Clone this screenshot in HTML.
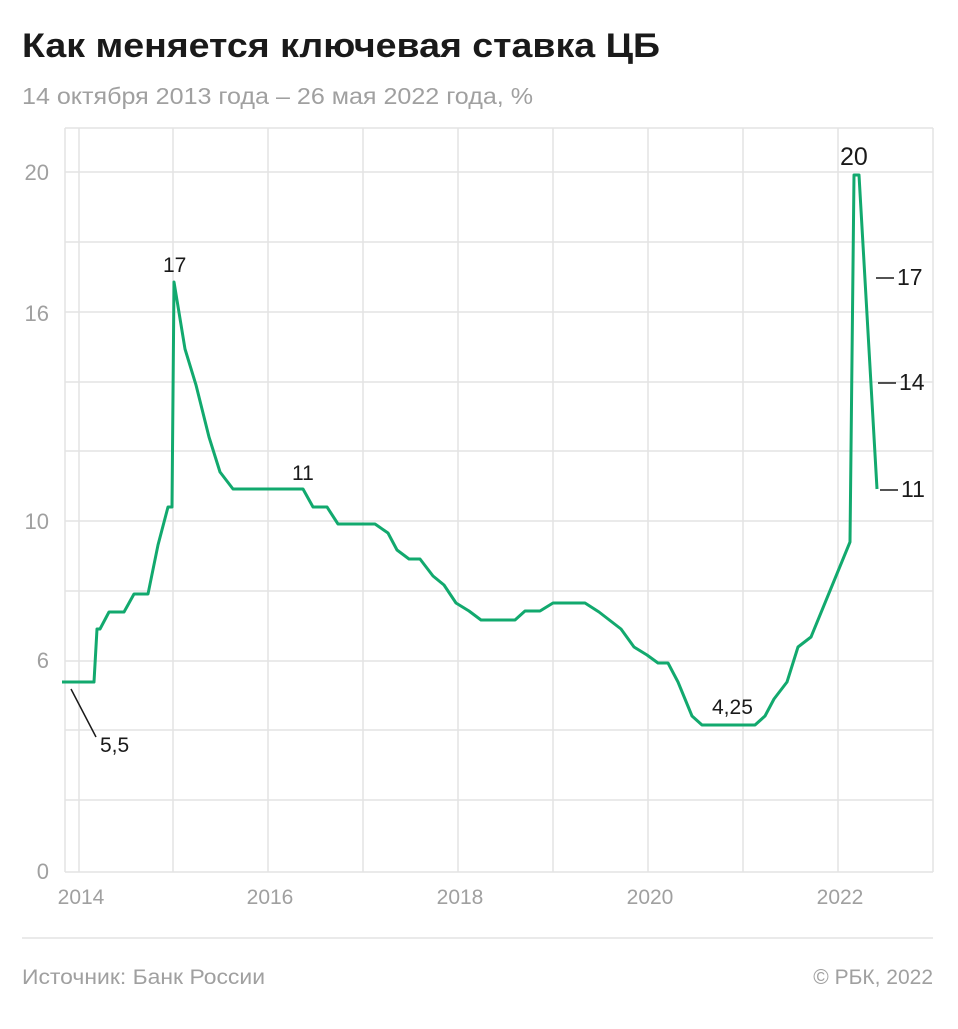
<!DOCTYPE html><html><head><meta charset="utf-8"><style>
body{margin:0;background:#fff;font-family:"Liberation Sans",sans-serif;}
</style></head><body>
<svg width="958" height="1024" xmlns="http://www.w3.org/2000/svg" font-family="Liberation Sans, sans-serif">
<rect width="958" height="1024" fill="#fff"/>
<text x="22" y="57" font-size="34" font-weight="bold" fill="#1a1a1a" textLength="638" lengthAdjust="spacingAndGlyphs">Как меняется ключевая ставка ЦБ</text>
<text x="22" y="104" font-size="23" fill="#a0a0a0" textLength="511" lengthAdjust="spacingAndGlyphs">14 октября 2013 года – 26 мая 2022 года, %</text>
<g stroke="#e3e3e3" stroke-width="1.5">
<line x1="65" y1="128" x2="933" y2="128"/>
<line x1="65" y1="172" x2="933" y2="172"/>
<line x1="65" y1="242" x2="933" y2="242"/>
<line x1="65" y1="312" x2="933" y2="312"/>
<line x1="65" y1="382" x2="933" y2="382"/>
<line x1="65" y1="451" x2="933" y2="451"/>
<line x1="65" y1="521" x2="933" y2="521"/>
<line x1="65" y1="591" x2="933" y2="591"/>
<line x1="65" y1="661" x2="933" y2="661"/>
<line x1="65" y1="730" x2="933" y2="730"/>
<line x1="65" y1="800" x2="933" y2="800"/>
<line x1="65" y1="872" x2="933" y2="872"/>
<line x1="65" y1="128" x2="65" y2="872"/>
<line x1="79" y1="128" x2="79" y2="872"/>
<line x1="173" y1="128" x2="173" y2="872"/>
<line x1="268" y1="128" x2="268" y2="872"/>
<line x1="363" y1="128" x2="363" y2="872"/>
<line x1="458" y1="128" x2="458" y2="872"/>
<line x1="553" y1="128" x2="553" y2="872"/>
<line x1="648" y1="128" x2="648" y2="872"/>
<line x1="743" y1="128" x2="743" y2="872"/>
<line x1="838" y1="128" x2="838" y2="872"/>
<line x1="933" y1="128" x2="933" y2="872"/>
<line x1="22" y1="938" x2="933" y2="938"/>
</g>
<g font-size="22" fill="#a0a0a0" text-anchor="end">
<text x="49" y="180">20</text><text x="49" y="321">16</text><text x="49" y="529">10</text><text x="49" y="668">6</text><text x="49" y="879">0</text>
</g>
<g font-size="21" fill="#a0a0a0" text-anchor="middle">
<text x="81" y="904">2014</text><text x="270" y="904">2016</text><text x="460" y="904">2018</text><text x="650" y="904">2020</text><text x="840" y="904">2022</text>
</g>
<polyline fill="none" stroke="#12a96e" stroke-width="3" stroke-linejoin="round" points="62,682 94,682 97,629 100,629 109,612 124,612 134,594 148,594 158,545 168,507 172,507 174,282 185,349 196,385 209,437 220,472 233,489 303,489 313,507 327,507 338,524 375,524 388,533 397,550 409,559 420,559 433,576 444,585 456,603 469,611 481,620 515,620 525,611 540,611 553,603 585,603 599,612 621,629 634,647 647,655 658,663 668,663 678,682 692,716 702,725 755,725 765,716 774,699 787,682 798,647 811,637 850,542 854,175 859,175 877,489"/>
<line x1="71" y1="689" x2="96" y2="737" stroke="#1a1a1a" stroke-width="1.5"/>
<g font-size="21" fill="#1a1a1a">
<text x="100" y="752">5,5</text>
<text x="163" y="272">17</text>
<text x="292" y="480">11</text>
<text x="712" y="714">4,25</text>
<text x="840" y="165" font-size="25">20</text>
<text x="897" y="285" font-size="23">17</text>
<text x="899" y="390" font-size="23">14</text>
<text x="901" y="497" font-size="23">11</text>
</g>
<g stroke="#1a1a1a" stroke-width="1.5">
<line x1="876" y1="278" x2="894" y2="278"/>
<line x1="878" y1="383" x2="896" y2="383"/>
<line x1="880" y1="490" x2="898" y2="490"/>
</g>
<text x="22" y="984" font-size="21" fill="#a0a0a0" textLength="243" lengthAdjust="spacingAndGlyphs">Источник: Банк России</text>
<text x="933" y="984" font-size="21" fill="#a0a0a0" text-anchor="end">© РБК, 2022</text>
</svg>
</body></html>
